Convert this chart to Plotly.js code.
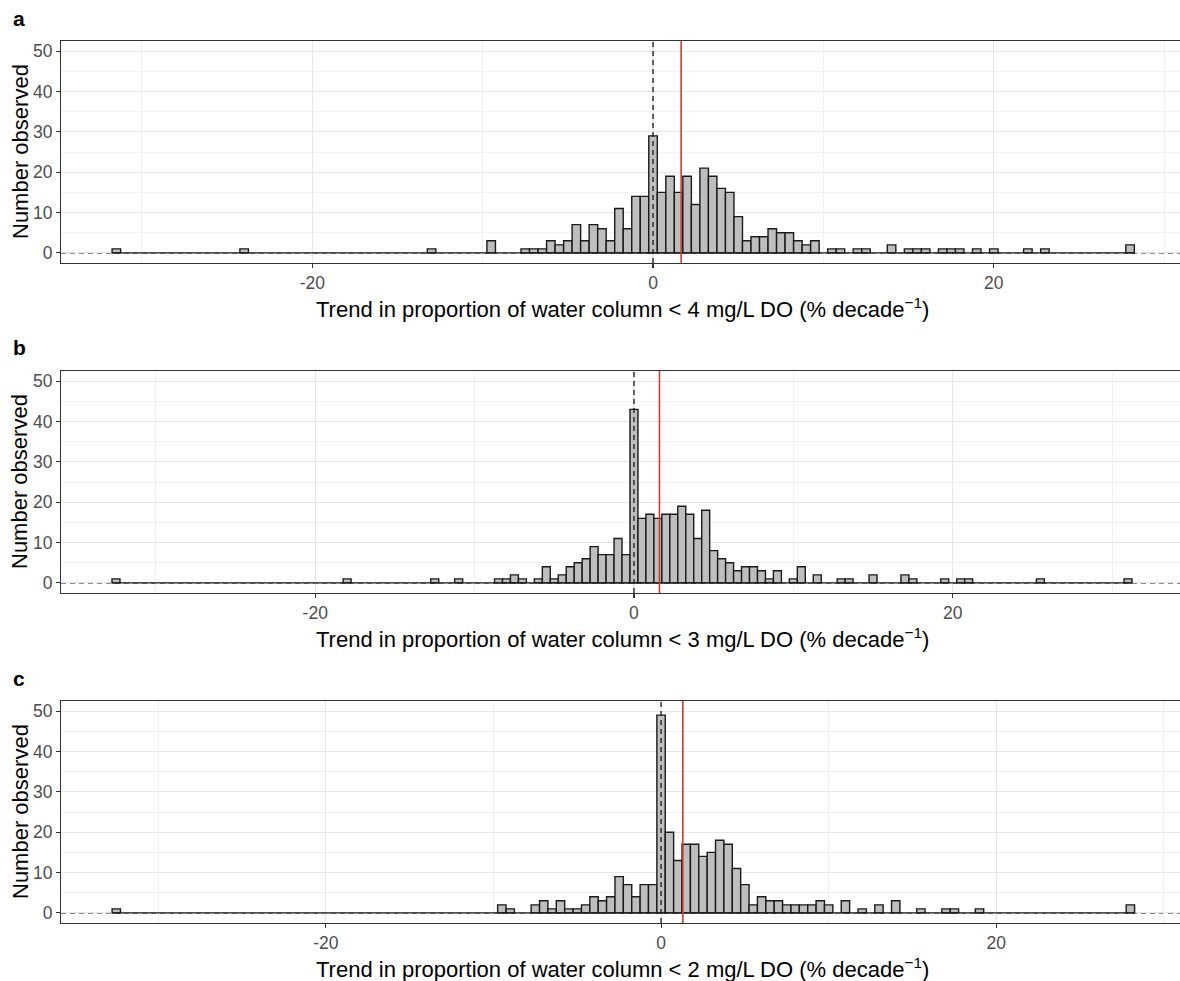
<!DOCTYPE html>
<html>
<head>
<meta charset="utf-8">
<script src="https://cdn.plot.ly/plotly-3.0.1.min.js"></script>
<style>html,body{margin:0;padding:0;background:#fff;overflow:hidden}#chart{width:1180px;height:981px}</style>
</head>
<body>
<div id="chart"></div>
<script>
// ---- Data (bin centres, bin width 0.5; counts per bin; only non-empty bins listed) ----
const binWidth = 0.5;
const binsA = [-31.5,-24,-13,-9.5,-7.5,-7,-6.5,-6,-5.5,-5,-4.5,-4,-3.5,-3,-2.5,-2,-1.5,-1,-0.5,0,0.5,1,1.5,2,2.5,3,3.5,4,4.5,5,5.5,6,6.5,7,7.5,8,8.5,9,9.5,10.5,11,12,12.5,14,15,15.5,16,17,17.5,18,19,20,22,23,28];
const countsA = [1,1,1,3,1,1,1,3,2,3,7,3,7,6,3,11,6,14,14,29,15,19,15,19,12,21,19,16,15,9,3,4,4,6,5,5,3,2,3,1,1,1,1,2,1,1,1,1,1,1,1,1,1,1,2];
const binsB = [-32.5,-18,-12.5,-11,-8.5,-8,-7.5,-7,-6,-5.5,-5,-4.5,-4,-3.5,-3,-2.5,-2,-1.5,-1,-0.5,0,0.5,1,1.5,2,2.5,3,3.5,4,4.5,5,5.5,6,6.5,7,7.5,8,8.5,9,10,10.5,11.5,13,13.5,15,17,17.5,19.5,20.5,21,25.5,31];
const countsB = [1,1,1,1,1,1,2,1,1,4,1,2,4,5,6,9,7,7,11,7,43,16,17,16,17,17,19,17,11,18,8,6,5,3,4,4,3,1,3,1,4,2,1,1,2,2,1,1,1,1,1,1];
const binsC = [-32.5,-9.5,-9,-7.5,-7,-6.5,-6,-5.5,-5,-4.5,-4,-3.5,-3,-2.5,-2,-1.5,-1,-0.5,0,0.5,1,1.5,2,2.5,3,3.5,4,4.5,5,5.5,6,6.5,7,7.5,8,8.5,9,9.5,10,11,12,13,14,15.5,17,17.5,19,28];
const countsC = [1,2,1,2,3,1,3,1,1,2,4,3,4,9,7,4,7,7,49,20,13,17,17,14,15,18,17,11,7,2,4,3,3,2,2,2,2,3,2,3,1,2,3,1,1,1,1,2];
const meanTrend = [1.65, 1.6, 1.3];
const panelLabels = ['a','b','c'];
const thresholds = ['4','3','2'];
const yTicks = [0,10,20,30,40,50];
const xTicks = [-20,0,20];

// ---- Layout geometry ----
const W = 1180, H = 981;
const px = x => x / W, py = y => 1 - y / H;
const panelTop = [41, 371, 701], panelBot = [263, 593, 923];
const xRanges = [[-34.75, 30.93], [-35.95, 34.26], [-35.8, 30.96]];
const allBins = [binsA, binsB, binsC], allCounts = [countsA, countsB, countsC];

const traces = [], shapes = [], annotations = [];
const layout = {
  width: W, height: H, margin: {l:0, r:0, t:0, b:0},
  paper_bgcolor: '#fff', plot_bgcolor: '#fff', showlegend: false,
  font: {family: 'Liberation Sans, Arial, sans-serif', color: '#000'},
  bargap: 0
};
const fontTick = {family: 'Liberation Sans, Arial, sans-serif', size: 17.5, color: '#4d4d4d'};
const fontTitle = {family: 'Liberation Sans, Arial, sans-serif', size: 22, color: '#000'};

for (let i = 0; i < 3; i++) {
  const sfx = i === 0 ? '' : String(i + 1);
  const xa = 'x' + sfx, ya = 'y' + sfx;
  const bins = allBins[i], counts = allCounts[i];
  traces.push({
    type: 'bar', x: bins, y: counts, width: binWidth, xaxis: xa, yaxis: ya,
    marker: {color: '#bebebe', line: {color: '#1a1a1a', width: 1.4}},
    hoverinfo: 'x+y'
  });
  const lo = Math.min(...bins) - binWidth / 2, hi = Math.max(...bins) + binWidth / 2;
  traces.push({
    type: 'scatter', mode: 'lines', x: [lo, hi], y: [0, 0], xaxis: xa, yaxis: ya,
    line: {color: '#1a1a1a', width: 1.4}, hoverinfo: 'skip'
  });
  const common = {
    showline: true, linecolor: '#333', linewidth: 1.1, zeroline: false,
    ticks: 'outside', ticklen: 4, tickwidth: 1.1, tickcolor: '#333',
    tickfont: fontTick, showgrid: true, gridcolor: '#e6e6e6', gridwidth: 1.1
  };
  layout['xaxis' + sfx] = Object.assign({}, common, {
    domain: [px(61), 1], range: xRanges[i], anchor: ya,
    tickmode: 'array', tickvals: xTicks, ticktext: xTicks.map(v => v < 0 ? '-' + Math.abs(v) : String(v)),
    mirror: true,
    minor: {dtick: 10, tick0: 10, showgrid: true, gridcolor: '#eeeeee', gridwidth: 0.8, ticks: ''}
  });
  layout['yaxis' + sfx] = Object.assign({}, common, {
    domain: [py(panelBot[i]), py(panelTop[i])], range: [-2.5, 52.5], anchor: xa,
    tickmode: 'array', tickvals: yTicks, mirror: false,
    minor: {dtick: 10, tick0: 5, showgrid: true, gridcolor: '#eeeeee', gridwidth: 0.8, ticks: ''}
  });
  // dashed horizontal zero line across whole panel
  shapes.push({type: 'line', xref: xa + ' domain', x0: 0, x1: 1, yref: ya, y0: 0, y1: 0,
    line: {color: '#1a1a1a', width: 1.2, dash: '5px,4px'}, layer: 'below'});
  // dashed vertical zero line
  shapes.push({type: 'line', xref: xa, x0: 0, x1: 0, yref: ya + ' domain', y0: 0, y1: 1,
    line: {color: '#1a1a1a', width: 1.3, dash: '5px,4px'}, layer: 'above'});
  // red mean line
  shapes.push({type: 'line', xref: xa, x0: meanTrend[i], x1: meanTrend[i], yref: ya + ' domain', y0: 0, y1: 1,
    line: {color: '#cc3a35', width: 1.6}, layer: 'above'});
  // panel label
  annotations.push({text: '<b>' + panelLabels[i] + '</b>', xref: 'paper', yref: 'paper',
    x: px(11), y: py(panelTop[i] - 23), xanchor: 'left', yanchor: 'middle', showarrow: false,
    font: {family: 'Liberation Sans, Arial, sans-serif', size: 21, color: '#000'}});
  // y title
  annotations.push({text: 'Number observed', xref: 'paper', yref: 'paper',
    x: px(20), y: py((panelTop[i] + panelBot[i]) / 2), xanchor: 'center', yanchor: 'middle',
    textangle: -90, showarrow: false, font: fontTitle});
  // x title
  annotations.push({text: 'Trend in proportion of water column &lt; ' + thresholds[i] + ' mg/L DO (% decade<sup>\u22121</sup>)',
    xref: 'paper', yref: 'paper', x: px(623), y: py(panelBot[i] + 45), xanchor: 'center', yanchor: 'middle',
    showarrow: false, font: fontTitle});
}
layout.shapes = shapes;
layout.annotations = annotations;
Plotly.newPlot('chart', traces, layout, {displayModeBar: false, staticPlot: true});
</script>
</body>
</html>
